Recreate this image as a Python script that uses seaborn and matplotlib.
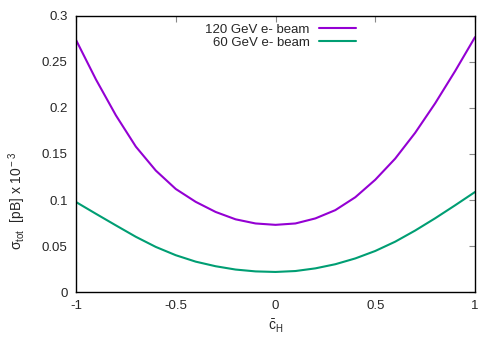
import numpy as np
import pandas as pd
import seaborn as sns
import matplotlib
matplotlib.use('Agg')
import matplotlib.pyplot as plt

# values
c_h = [-1.0, -0.9, -0.8, -0.7, -0.6, -0.5, -0.4, -0.3, -0.2, -0.1, 0.0,
       0.1, 0.2, 0.3, 0.4, 0.5, 0.6, 0.7, 0.8, 0.9, 1.0]
sigma_120 = [0.274, 0.231, 0.192, 0.158, 0.132, 0.112, 0.098, 0.087, 0.079, 0.0745, 0.0730,
             0.0745, 0.0800, 0.0890, 0.1030, 0.1220, 0.1450, 0.1730, 0.2050, 0.2400, 0.2770]
sigma_60 = [0.0978, 0.0850, 0.0724, 0.0600, 0.0490, 0.0400, 0.0330, 0.0280, 0.0244, 0.0224, 0.0218,
            0.0228, 0.0257, 0.0302, 0.0365, 0.0446, 0.0547, 0.0668, 0.0801, 0.0942, 0.1087]
labels = ['120 GeV e- beam', '60 GeV e- beam']
colors = ['#9400d3', '#009e73']

x_ticks = [-1, -0.5, 0, 0.5, 1]
x_ticklabels = ['-1', '-0.5', '0', '0.5', '1']
y_ticks = [0, 0.05, 0.1, 0.15, 0.2, 0.25, 0.3]
y_ticklabels = ['0', '0.05', '0.1', '0.15', '0.2', '0.25', '0.3']


def make_df():
    df = pd.concat([
        pd.DataFrame({'c': c_h, 'sigma': sigma_120, 'beam': labels[0]}),
        pd.DataFrame({'c': c_h, 'sigma': sigma_60, 'beam': labels[1]}),
    ])
    return df


def make_plot(df):
    sns.set_style('white')
    plt.rcParams['font.family'] = ['Liberation Sans', 'DejaVu Sans']
    plt.rcParams['mathtext.fontset'] = 'custom'
    plt.rcParams['mathtext.rm'] = 'Liberation Sans'
    plt.rcParams['mathtext.it'] = 'Liberation Sans'
    plt.rcParams['mathtext.bf'] = 'Liberation Sans'

    fig = plt.figure(figsize=(5, 3.5), dpi=100)
    ax = fig.add_axes([0.152, 0.1657, 0.798, 0.7886])

    sns.lineplot(data=df, x='c', y='sigma', hue='beam', palette=colors,
                 linewidth=1.5, ax=ax, legend=True)

    ax.set_xlim(-1, 1)
    ax.set_ylim(0, 0.3)
    ax.set_xticks(x_ticks)
    ax.set_xticklabels(x_ticklabels)
    ax.set_yticks(y_ticks)
    ax.set_yticklabels(y_ticklabels)
    ax.tick_params(axis='both', which='major', direction='in', length=4, width=0.8,
                   color='#888888', labelsize=9.5, top=True, right=True, pad=6)

    for s in ax.spines.values():
        s.set_color('black')
        s.set_linewidth(1)

    ax.set_xlabel(r'$\bar{\rm c}_{\rm H}$', fontsize=10, labelpad=4)
    ax.set_ylabel(r'$\sigma_{\rm tot}$  [pB] x 10$^{\rm -3}$', fontsize=10)
    ax.yaxis.set_label_coords(-0.12, 0.33)

    ax.legend(loc='upper right', bbox_to_anchor=(0.728, 1.01), frameon=False,
              markerfirst=False, fontsize=9.5, handlelength=2.8,
              handletextpad=0.7, labelspacing=0.05, borderpad=0.3)

    fig.savefig('out.png', dpi=100)


def main():
    df = make_df()
    make_plot(df)


if __name__ == '__main__':
    main()
